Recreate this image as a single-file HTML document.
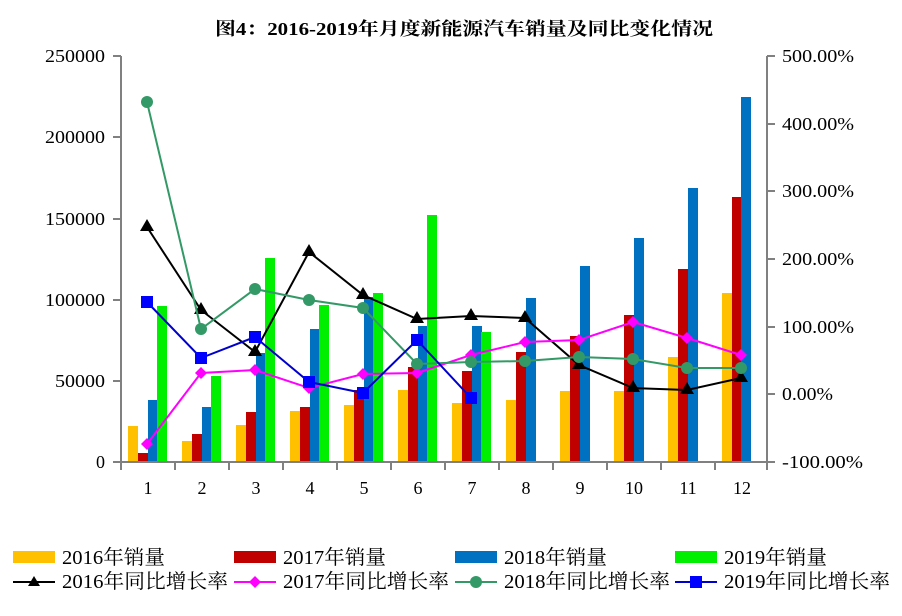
<!DOCTYPE html>
<html><head><meta charset="utf-8"><style>
html,body{margin:0;padding:0;background:#fff;}
svg{display:block;font-family:"Liberation Serif","Noto Serif CJK SC",serif;}
</style></head><body>
<svg width="902" height="616" viewBox="0 0 902 616" xmlns="http://www.w3.org/2000/svg">
<text x="215" y="35" font-size="18" font-weight="bold" fill="#000" textLength="498" lengthAdjust="spacingAndGlyphs">图4：2016-2019年月度新能源汽车销量及同比变化情况</text>
<!-- bars -->
<g fill="#FFC000">
<rect x="128" y="426" width="10" height="36"/><rect x="182" y="441" width="10" height="21"/><rect x="236" y="425" width="10" height="37"/><rect x="290" y="411" width="10" height="51"/><rect x="344" y="405" width="10" height="57"/><rect x="398" y="390" width="10" height="72"/><rect x="452" y="403" width="10" height="59"/><rect x="506" y="400" width="10" height="62"/><rect x="560" y="391" width="10" height="71"/><rect x="614" y="391" width="10" height="71"/><rect x="668" y="357" width="10" height="105"/><rect x="722" y="293" width="10" height="169"/>
</g>
<g fill="#C00000">
<rect x="138" y="453" width="10" height="9"/><rect x="192" y="434" width="10" height="28"/><rect x="246" y="412" width="10" height="50"/><rect x="300" y="407" width="10" height="55"/><rect x="354" y="390" width="10" height="72"/><rect x="408" y="367" width="10" height="95"/><rect x="462" y="371" width="10" height="91"/><rect x="516" y="352" width="10" height="110"/><rect x="570" y="336" width="10" height="126"/><rect x="624" y="315" width="10" height="147"/><rect x="678" y="269" width="10" height="193"/><rect x="732" y="197" width="10" height="265"/>
</g>
<g fill="#0070C0">
<rect x="148" y="400" width="10" height="62"/><rect x="202" y="407" width="10" height="55"/><rect x="256" y="353" width="10" height="109"/><rect x="310" y="329" width="10" height="133"/><rect x="364" y="297" width="10" height="165"/><rect x="418" y="326" width="10" height="136"/><rect x="472" y="326" width="10" height="136"/><rect x="526" y="298" width="10" height="164"/><rect x="580" y="266" width="10" height="196"/><rect x="634" y="238" width="10" height="224"/><rect x="688" y="188" width="10" height="274"/><rect x="741" y="97" width="10" height="365"/>
</g>
<g fill="#00EE00">
<rect x="157" y="306" width="10" height="156"/><rect x="211" y="376" width="10" height="86"/><rect x="265" y="258" width="10" height="204"/><rect x="319" y="305" width="10" height="157"/><rect x="373" y="293" width="10" height="169"/><rect x="427" y="215" width="10" height="247"/><rect x="481" y="332" width="10" height="130"/>
</g>
<!-- axes -->
<g stroke="#808080" stroke-width="2" fill="none">
<line x1="121" y1="56" x2="121" y2="463"/>
<line x1="767" y1="56" x2="767" y2="463"/>
<line x1="120" y1="462" x2="768" y2="462"/>
<line x1="113" y1="56" x2="121" y2="56"/><line x1="113" y1="137" x2="121" y2="137"/><line x1="113" y1="219" x2="121" y2="219"/><line x1="113" y1="300" x2="121" y2="300"/><line x1="113" y1="381" x2="121" y2="381"/><line x1="113" y1="462" x2="121" y2="462"/>
<line x1="767" y1="56" x2="775" y2="56"/><line x1="767" y1="124" x2="775" y2="124"/><line x1="767" y1="191" x2="775" y2="191"/><line x1="767" y1="259" x2="775" y2="259"/><line x1="767" y1="327" x2="775" y2="327"/><line x1="767" y1="394" x2="775" y2="394"/><line x1="760" y1="462" x2="775" y2="462"/>
<line x1="175" y1="462" x2="175" y2="470"/><line x1="229" y1="462" x2="229" y2="470"/><line x1="283" y1="462" x2="283" y2="470"/><line x1="337" y1="462" x2="337" y2="470"/><line x1="391" y1="462" x2="391" y2="470"/><line x1="445" y1="462" x2="445" y2="470"/><line x1="499" y1="462" x2="499" y2="470"/><line x1="553" y1="462" x2="553" y2="470"/><line x1="607" y1="462" x2="607" y2="470"/><line x1="661" y1="462" x2="661" y2="470"/><line x1="715" y1="462" x2="715" y2="470"/><line x1="121" y1="462" x2="121" y2="470"/><line x1="767" y1="462" x2="767" y2="470"/>
</g>
<g font-size="18" fill="#000" text-anchor="end" lengthAdjust="spacingAndGlyphs">
<text x="105" y="62" textLength="60" lengthAdjust="spacingAndGlyphs">250000</text><text x="105" y="143" textLength="60" lengthAdjust="spacingAndGlyphs">200000</text><text x="105" y="225" textLength="60" lengthAdjust="spacingAndGlyphs">150000</text><text x="105" y="306" textLength="60" lengthAdjust="spacingAndGlyphs">100000</text><text x="105" y="387" textLength="50" lengthAdjust="spacingAndGlyphs">50000</text><text x="105" y="468">0</text>
</g>
<g font-size="18" fill="#000">
<text x="782" y="62" textLength="72" lengthAdjust="spacingAndGlyphs">500.00%</text><text x="782" y="130" textLength="72" lengthAdjust="spacingAndGlyphs">400.00%</text><text x="782" y="197" textLength="72" lengthAdjust="spacingAndGlyphs">300.00%</text><text x="782" y="265" textLength="72" lengthAdjust="spacingAndGlyphs">200.00%</text><text x="782" y="333" textLength="72" lengthAdjust="spacingAndGlyphs">100.00%</text><text x="782" y="400" textLength="51" lengthAdjust="spacingAndGlyphs">0.00%</text><text x="782" y="468" textLength="81" lengthAdjust="spacingAndGlyphs">-100.00%</text>
</g>
<g font-size="18" fill="#000" text-anchor="middle">
<text x="148" y="494">1</text><text x="202" y="494">2</text><text x="256" y="494">3</text><text x="310" y="494">4</text><text x="364" y="494">5</text><text x="418" y="494">6</text><text x="472" y="494">7</text><text x="526" y="494">8</text><text x="580" y="494">9</text><text x="634" y="494">10</text><text x="688" y="494">11</text><text x="742" y="494">12</text>
</g>
<!-- lines -->
<polyline fill="none" stroke="#000" stroke-width="2" points="147,227 201,310 255,352 309,252 363,295 417,319 471,316 525,318 579,365 633,388 687,390 741,378"/>
<g fill="#000">
<path d="M147,219 l7,12 h-14z"/><path d="M201,302 l7,12 h-14z"/><path d="M255,344 l7,12 h-14z"/><path d="M309,244 l7,12 h-14z"/><path d="M363,287 l7,12 h-14z"/><path d="M417,311 l7,12 h-14z"/><path d="M471,308 l7,12 h-14z"/><path d="M525,310 l7,12 h-14z"/><path d="M579,357 l7,12 h-14z"/><path d="M633,380 l7,12 h-14z"/><path d="M687,382 l7,12 h-14z"/><path d="M741,370 l7,12 h-14z"/>
</g>
<polyline fill="none" stroke="#FF00FF" stroke-width="2" points="147,444 201,373 255,370 309,388 363,374 417,373 471,355 525,342 579,340 633,322 687,338 741,355"/>
<g fill="#FF00FF">
<path d="M147,438 l6,6 -6,6 -6,-6z"/><path d="M201,367 l6,6 -6,6 -6,-6z"/><path d="M255,364 l6,6 -6,6 -6,-6z"/><path d="M309,382 l6,6 -6,6 -6,-6z"/><path d="M363,368 l6,6 -6,6 -6,-6z"/><path d="M417,367 l6,6 -6,6 -6,-6z"/><path d="M471,349 l6,6 -6,6 -6,-6z"/><path d="M525,336 l6,6 -6,6 -6,-6z"/><path d="M579,334 l6,6 -6,6 -6,-6z"/><path d="M633,316 l6,6 -6,6 -6,-6z"/><path d="M687,332 l6,6 -6,6 -6,-6z"/><path d="M741,349 l6,6 -6,6 -6,-6z"/>
</g>
<polyline fill="none" stroke="#339966" stroke-width="2" points="147,102 201,329 255,289 309,300 363,308 417,364 471,362 525,361 579,357 633,359 687,368 741,368"/>
<g fill="#339966">
<circle cx="147" cy="102" r="6"/><circle cx="201" cy="329" r="6"/><circle cx="255" cy="289" r="6"/><circle cx="309" cy="300" r="6"/><circle cx="363" cy="308" r="6"/><circle cx="417" cy="364" r="6"/><circle cx="471" cy="362" r="6"/><circle cx="525" cy="361" r="6"/><circle cx="579" cy="357" r="6"/><circle cx="633" cy="359" r="6"/><circle cx="687" cy="368" r="6"/><circle cx="741" cy="368" r="6"/>
</g>
<polyline fill="none" stroke="#0000CC" stroke-width="2" points="147,302 201,358 255,337 309,382 363,393 417,340 471,398"/>
<g fill="#0000FF">
<rect x="141" y="296" width="12" height="12"/><rect x="195" y="352" width="12" height="12"/><rect x="249" y="331" width="12" height="12"/><rect x="303" y="376" width="12" height="12"/><rect x="357" y="387" width="12" height="12"/><rect x="411" y="334" width="12" height="12"/><rect x="465" y="392" width="12" height="12"/>
</g>
<!-- legend -->
<rect x="13" y="551" width="42" height="12" fill="#FFC000"/>
<rect x="234" y="551" width="42" height="12" fill="#C00000"/>
<rect x="455" y="551" width="42" height="12" fill="#0070C0"/>
<rect x="675" y="551" width="42" height="12" fill="#00EE00"/>
<line x1="13" y1="582" x2="55" y2="582" stroke="#000" stroke-width="2"/><path d="M34,576 l6,10 h-12z" fill="#000"/>
<line x1="234" y1="582" x2="276" y2="582" stroke="#FF00FF" stroke-width="2"/><path d="M255,576 l6,6 -6,6 -6,-6z" fill="#FF00FF"/>
<line x1="455" y1="582" x2="497" y2="582" stroke="#339966" stroke-width="2"/><circle cx="476" cy="582" r="6" fill="#339966"/>
<line x1="675" y1="582" x2="717" y2="582" stroke="#0000CC" stroke-width="2"/><rect x="690" y="576" width="12" height="12" fill="#0000FF"/>
<g font-size="20" fill="#000">
<text x="62" y="564" textLength="103" lengthAdjust="spacingAndGlyphs">2016年销量</text><text x="283" y="564" textLength="103" lengthAdjust="spacingAndGlyphs">2017年销量</text><text x="504" y="564" textLength="103" lengthAdjust="spacingAndGlyphs">2018年销量</text><text x="724" y="564" textLength="103" lengthAdjust="spacingAndGlyphs">2019年销量</text>
<text x="62" y="588" textLength="166" lengthAdjust="spacingAndGlyphs">2016年同比增长率</text><text x="283" y="588" textLength="166" lengthAdjust="spacingAndGlyphs">2017年同比增长率</text><text x="504" y="588" textLength="166" lengthAdjust="spacingAndGlyphs">2018年同比增长率</text><text x="724" y="588" textLength="166" lengthAdjust="spacingAndGlyphs">2019年同比增长率</text>
</g>
</svg>
</body></html>
